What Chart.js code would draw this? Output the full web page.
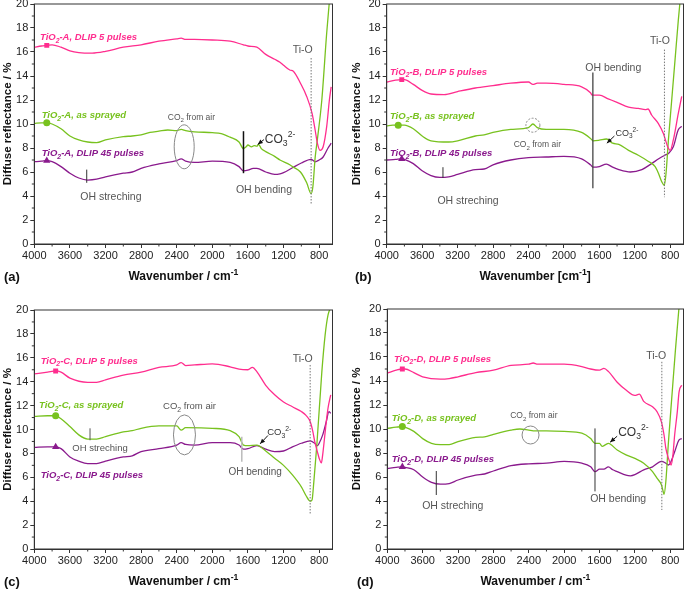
<!DOCTYPE html>
<html>
<head>
<meta charset="utf-8">
<script src="https://cdn.jsdelivr.net/npm/chart.js@4.4.1/dist/chart.umd.min.js"></script>
<style>
  html, body { margin: 0; padding: 0; background: #fff; }
  #wrap { position: relative; width: 685px; height: 591px; overflow: hidden; }
  .panel { position: absolute; }
</style>
</head>
<body>
<div id="wrap">
  <div class="panel" style="left:0;top:0;width:342px;height:295px"><canvas id="cA"></canvas></div>
  <div class="panel" style="left:342px;top:0;width:343px;height:295px"><canvas id="cB"></canvas></div>
  <div class="panel" style="left:0;top:295px;width:342px;height:296px"><canvas id="cC"></canvas></div>
  <div class="panel" style="left:342px;top:295px;width:343px;height:296px"><canvas id="cD"></canvas></div>
</div>
<script>
// ---- data (wavenumber / cm-1, diffuse reflectance / %) ----
const yTicks = [0, 2, 4, 6, 8, 10, 12, 14, 16, 18, 20];
const xTicks = [4000, 3600, 3200, 2800, 2400, 2000, 1600, 1200, 800];

// (a)
const aPinkX = [4000, 3920, 3860, 3800, 3700, 3600, 3500, 3350, 3200, 3000, 2800, 2600, 2400, 2350, 2300, 2200, 2000, 1800, 1650, 1600, 1500, 1400, 1300, 1240, 1200, 1130, 1090, 1010, 940, 880, 845, 820, 790, 755, 715, 685, 665];
const aPinkY = [16.4, 16.5, 16.55, 16.6, 16.4, 16.1, 15.95, 15.9, 16.05, 16.4, 16.6, 16.9, 17.1, 17.15, 17.05, 17.05, 17.0, 16.9, 16.6, 16.5, 16.4, 15.8, 15.4, 15.15, 14.9, 14.5, 14.4, 13.4, 12.3, 10.9, 9.5, 8.4, 7.8, 8.1, 9.8, 12.0, 13.1];
const aGreenX = [4000, 3920, 3860, 3800, 3700, 3600, 3500, 3400, 3300, 3200, 3000, 2900, 2800, 2700, 2600, 2500, 2400, 2350, 2300, 2200, 2000, 1900, 1800, 1700, 1650, 1620, 1600, 1560, 1530, 1500, 1480, 1450, 1400, 1300, 1240, 1130, 1100, 1010, 940, 890, 870, 845, 820, 770, 715, 685];
const aGreenY = [10.05, 10.1, 10.1, 10.0, 9.6, 9.0, 8.67, 8.5, 8.45, 8.67, 8.95, 9.0, 9.1, 9.3, 9.4, 9.5, 9.45, 9.55, 9.45, 9.35, 9.28, 9.2, 8.9, 8.5, 7.95, 8.1, 8.25, 8.1, 8.2, 8.15, 8.3, 7.95, 7.7, 7.3, 7.0, 6.6, 6.45, 6.0, 5.1, 4.2, 4.8, 7.2, 8.7, 12.0, 17.6, 20.2];
const aPurpX = [4000, 3920, 3860, 3800, 3700, 3600, 3500, 3400, 3300, 3200, 3000, 2900, 2800, 2600, 2400, 2350, 2300, 2200, 2000, 1800, 1700, 1650, 1600, 1540, 1500, 1400, 1300, 1240, 1200, 1100, 1000, 890, 845, 800, 755, 700, 665];
const aPurpY = [6.86, 6.9, 6.95, 6.86, 6.45, 5.9, 5.5, 5.33, 5.4, 5.6, 5.9, 6.0, 6.3, 6.67, 6.95, 7.1, 6.9, 6.8, 6.9, 6.8, 6.45, 6.1, 6.15, 6.3, 6.3, 6.0, 5.8, 5.85, 5.95, 6.35, 6.75, 7.05, 6.85, 7.0, 7.25, 8.0, 8.4];

// (b)
const bPinkX = [4000, 3900, 3830, 3800, 3700, 3600, 3500, 3350, 3200, 3000, 2800, 2600, 2400, 2350, 2300, 2200, 2000, 1800, 1700, 1680, 1600, 1500, 1400, 1270, 1160, 1080, 1050, 1010, 935, 877, 828, 801, 764, 708, 670];
const bPinkY = [13.5, 13.65, 13.7, 13.7, 13.3, 12.8, 12.5, 12.45, 12.7, 13.0, 13.2, 13.4, 13.5, 13.3, 13.4, 13.4, 13.3, 13.1, 12.6, 12.4, 12.4, 12.1, 11.8, 11.4, 11.3, 11.2, 11.25, 10.75, 10.05, 9.2, 8.1, 7.8, 8.7, 10.9, 12.3];
const bGreenX = [4000, 3930, 3870, 3800, 3700, 3600, 3500, 3300, 3200, 3000, 2900, 2800, 2600, 2400, 2350, 2300, 2200, 2000, 1800, 1700, 1670, 1600, 1520, 1450, 1380, 1270, 1160, 1050, 970, 933, 896, 866, 847, 820, 783, 746, 708, 689];
const bGreenY = [9.85, 9.9, 9.9, 9.9, 9.6, 9.0, 8.6, 8.5, 8.6, 9.0, 9.1, 9.3, 9.55, 9.7, 10.0, 9.7, 9.55, 9.55, 9.3, 8.8, 8.6, 8.65, 8.75, 8.4, 8.3, 7.8, 7.4, 6.9, 6.45, 5.9, 5.2, 4.9, 5.9, 8.7, 12.0, 15.3, 18.7, 20.2];
const bPurpX = [4000, 3900, 3830, 3800, 3700, 3600, 3500, 3400, 3300, 3200, 3000, 2900, 2800, 2600, 2400, 2200, 2000, 1800, 1700, 1670, 1600, 1520, 1450, 1380, 1250, 1120, 1010, 930, 860, 820, 765, 710, 670];
const bPurpY = [7.0, 7.05, 7.1, 7.05, 6.7, 6.1, 5.7, 5.55, 5.6, 5.8, 6.2, 6.25, 6.6, 7.0, 7.2, 7.25, 7.3, 7.1, 6.6, 6.4, 6.45, 6.65, 6.4, 6.2, 6.0, 6.2, 6.7, 7.1, 7.4, 7.55, 8.1, 9.5, 9.8];

// (c)
const cPinkX = [4000, 3850, 3760, 3700, 3600, 3400, 3300, 3200, 3000, 2800, 2600, 2400, 2350, 2300, 2200, 2000, 1800, 1700, 1600, 1550, 1500, 1400, 1300, 1200, 1100, 1000, 950, 900, 870, 850, 820, 800, 775, 760, 740, 720, 700, 670];
const cPinkY = [14.65, 14.8, 14.9, 14.8, 14.3, 13.95, 13.95, 14.15, 14.55, 14.8, 15.2, 15.4, 15.6, 15.35, 15.4, 15.5, 15.25, 15.05, 15.0, 15.2, 14.85, 13.7, 12.9, 12.3, 11.9, 11.5, 11.2, 10.65, 9.8, 9.0, 8.15, 7.6, 7.2, 7.9, 9.25, 10.65, 11.8, 12.9];
const cGreenX = [4000, 3850, 3760, 3700, 3600, 3500, 3400, 3300, 3200, 3000, 2900, 2800, 2600, 2400, 2350, 2300, 2000, 1800, 1700, 1650, 1600, 1500, 1400, 1300, 1200, 1100, 1000, 950, 900, 880, 860, 826, 770, 733, 700, 670];
const cGreenY = [11.1, 11.15, 11.15, 10.9, 10.25, 9.55, 9.2, 9.2, 9.4, 9.8, 9.9, 10.1, 10.3, 10.3, 9.95, 10.15, 10.1, 9.9, 9.4, 8.7, 8.65, 8.7, 8.2, 7.6, 7.0, 6.2, 5.2, 4.5, 4.0, 4.1, 5.6, 8.7, 14.8, 17.9, 19.6, 20.2];
const cPurpX = [4000, 3850, 3760, 3700, 3600, 3500, 3400, 3300, 3200, 3000, 2900, 2800, 2600, 2400, 2350, 2300, 2200, 2000, 1800, 1700, 1650, 1600, 1500, 1400, 1300, 1200, 1100, 1000, 900, 850, 820, 800, 760, 720, 690, 670];
const cPurpY = [8.5, 8.55, 8.55, 8.4, 7.7, 7.35, 7.15, 7.15, 7.35, 7.7, 7.8, 8.15, 8.4, 8.7, 8.9, 8.75, 8.7, 8.9, 8.9, 8.7, 8.35, 8.4, 8.65, 8.35, 8.15, 8.2, 8.55, 8.85, 9.05, 8.85, 8.65, 8.85, 9.55, 10.65, 11.5, 11.35];

// (d)
const dPinkX = [4000, 3900, 3830, 3800, 3700, 3600, 3400, 3300, 3200, 3000, 2800, 2600, 2400, 2350, 2300, 2000, 1800, 1700, 1600, 1550, 1500, 1400, 1300, 1200, 1150, 1100, 1000, 950, 900, 870, 850, 820, 800, 790, 770, 750, 720, 700, 670];
const dPinkY = [14.65, 14.9, 15.0, 15.0, 14.7, 14.35, 14.15, 14.2, 14.35, 14.7, 14.9, 15.3, 15.4, 15.5, 15.4, 15.4, 15.2, 15.0, 14.9, 15.05, 14.8, 13.9, 13.25, 12.8, 12.9, 12.3, 11.85, 11.45, 10.6, 9.5, 8.4, 7.55, 7.15, 7.0, 7.8, 9.5, 11.45, 13.1, 13.65];
const dGreenX = [4000, 3900, 3830, 3800, 3700, 3600, 3500, 3400, 3300, 3200, 3000, 2900, 2800, 2600, 2500, 2400, 2350, 2200, 2000, 1800, 1700, 1650, 1600, 1570, 1530, 1500, 1400, 1300, 1200, 1100, 1000, 950, 900, 880, 870, 850, 820, 780, 740, 700];
const dGreenY = [10.05, 10.15, 10.2, 10.15, 9.8, 9.2, 8.8, 8.7, 8.7, 8.95, 9.3, 9.35, 9.55, 9.9, 10.0, 9.9, 9.85, 9.85, 9.8, 9.65, 9.2, 8.8, 8.8, 8.55, 8.7, 8.8, 8.25, 7.85, 7.55, 7.15, 6.45, 5.9, 5.35, 4.8, 4.55, 5.6, 8.95, 12.85, 16.7, 20.2];
const dPurpX = [4000, 3900, 3830, 3800, 3700, 3600, 3500, 3400, 3300, 3200, 3000, 2900, 2800, 2600, 2400, 2200, 2000, 1800, 1700, 1650, 1600, 1550, 1500, 1450, 1400, 1300, 1250, 1200, 1100, 1000, 900, 850, 820, 800, 750, 700, 670];
const dPurpY = [6.7, 6.8, 6.85, 6.8, 6.6, 6.0, 5.55, 5.4, 5.45, 5.75, 6.15, 6.25, 6.5, 6.95, 7.1, 7.15, 7.3, 7.15, 6.85, 6.45, 6.65, 6.65, 6.85, 6.6, 6.45, 6.15, 6.1, 6.2, 6.6, 6.85, 7.3, 7.15, 7.0, 7.15, 8.1, 9.1, 9.2];

// wavenumber where each curve carries its symbol: [pink, green, purple]
const markA = [3860, 3860, 3860];
const markB = [3830, 3870, 3830];
const markC = [3760, 3760, 3760];
const markD = [3830, 3830, 3830];

const PINK = '#ff2d8e', GREEN = '#78c21f', PURPLE = '#8a1a8d';
const FAMILY = 'Arial, "Liberation Sans", sans-serif';

Chart.defaults.font.family = FAMILY;
Chart.defaults.font.size = 11;
Chart.defaults.color = '#222';

function zip(xs, ys) {
  return xs.map((x, i) => ({ x: x, y: ys[i] }));
}

// draws text with sub (1) / sup (2) parts; y is the vertical middle
function rich(ctx, parts, x, y, size, font, color, align) {
  const f = s => `${font} ${s}px ${FAMILY}`;
  const widths = parts.map(([t, m]) => { ctx.font = f(m ? size * 0.72 : size); return ctx.measureText(t).width; });
  const total = widths.reduce((s, w) => s + w, 0);
  let cx = align === 'center' ? x - total / 2 : align === 'right' ? x - total : x;
  ctx.fillStyle = color;
  ctx.textAlign = 'left';
  ctx.textBaseline = 'alphabetic';
  const base = y + size * 0.36;
  parts.forEach(([t, m], i) => {
    ctx.font = f(m ? size * 0.72 : size);
    const dy = m === 1 ? size * 0.3 : m === 2 ? -size * 0.45 : 0;
    ctx.fillText(t, cx, base + dy);
    cx += widths[i];
  });
}

const decoPlugin = {
  id: 'deco',
  afterDraw(chart, args, o) {
    const { ctx, chartArea: a, scales: { x, y } } = chart;
    const px = w => x.getPixelForValue(w), py = v => y.getPixelForValue(v);
    ctx.save();

    // box + minor ticks
    ctx.strokeStyle = '#333';
    ctx.lineWidth = 1;
    ctx.strokeRect(a.left, a.top, a.right - a.left, a.bottom - a.top);
    ctx.beginPath();
    for (let w = 1000; w < 4000; w += 400) { ctx.moveTo(px(w), a.bottom); ctx.lineTo(px(w), a.bottom + 2.5); }
    for (let v = 1; v < 20; v += 2) { ctx.moveTo(a.left, py(v)); ctx.lineTo(a.left - 2.5, py(v)); }
    ctx.stroke();

    // annotations
    o.notes.forEach(n => {
      ctx.setLineDash(n.dash || []);
      ctx.strokeStyle = n.color || '#444';
      ctx.lineWidth = n.width || 1;
      if (n.type === 'text') {
        rich(ctx, n.parts, px(n.w), py(n.v), n.size, 'normal', n.color || '#444', n.align || 'center');
      } else if (n.type === 'vline') {
        ctx.beginPath();
        ctx.moveTo(px(n.w), py(n.v1));
        ctx.lineTo(px(n.w), py(n.v2));
        ctx.stroke();
      } else if (n.type === 'ellipse') {
        ctx.beginPath();
        ctx.ellipse(px(n.w), py(n.v), n.rx, n.ry, 0, 0, Math.PI * 2);
        ctx.stroke();
      } else if (n.type === 'arrow') {
        const x1 = px(n.w1), y1 = py(n.v1), x2 = px(n.w2), y2 = py(n.v2);
        const ang = Math.atan2(y2 - y1, x2 - x1);
        ctx.beginPath();
        ctx.moveTo(x1, y1);
        ctx.lineTo(x2, y2);
        ctx.stroke();
        ctx.fillStyle = n.color || '#111';
        ctx.beginPath();
        ctx.moveTo(x2, y2);
        ctx.lineTo(x2 - 5 * Math.cos(ang) + 2.2 * Math.sin(ang), y2 - 5 * Math.sin(ang) - 2.2 * Math.cos(ang));
        ctx.lineTo(x2 - 5 * Math.cos(ang) - 2.2 * Math.sin(ang), y2 - 5 * Math.sin(ang) + 2.2 * Math.cos(ang));
        ctx.closePath();
        ctx.fill();
      }
      ctx.setLineDash([]);
    });

    // series names
    o.labels.forEach(l => {
      rich(ctx, l.parts, px(l.w), py(l.v), 9.5, 'italic bold', l.color, 'left');
    });

    // axis titles and panel letter
    ctx.save();
    ctx.translate(o.yTitleX, (a.top + a.bottom) / 2);
    ctx.rotate(-Math.PI / 2);
    rich(ctx, [['Diffuse reflectance / %', 0]], 0, 0, 11.5, 'bold', '#111', 'center');
    ctx.restore();
    rich(ctx, o.xTitle, (a.left + a.right) / 2, a.bottom + 32, 12, 'bold', '#111', 'center');
    rich(ctx, [[o.letter, 0]], o.letterX, a.bottom + 32, 13, 'bold', '#111', 'left');
    ctx.restore();
  }
};

function seriesNames(tag, pos) {
  const names = [' DLIP 5 pulses', ' as sprayed', ' DLIP 45 pulses'];
  const cols = [PINK, GREEN, PURPLE];
  return names.map((nm, i) => ({
    parts: [['TiO', 0], ['2', 1], ['-' + tag + ',' + nm, 0]],
    w: pos[i][0], v: pos[i][1], color: cols[i]
  }));
}

function co2(w, v, size) {
  return { type: 'text', parts: [['CO', 0], ['2', 1], [' from air', 0]], w: w, v: v, size: size, color: '#555' };
}
function co3(w, v, size) {
  return { type: 'text', parts: [['CO', 0], ['3', 1], ['2-', 2]], w: w, v: v, size: size, color: '#333', align: 'left' };
}
function txt(s, w, v, size) {
  return { type: 'text', parts: [[s, 0]], w: w, v: v, size: size, color: '#555' };
}

function makeChart(id, box, series, marks, deco) {
  const cols = [PINK, GREEN, PURPLE];
  const styles = ['rect', 'circle', 'triangle'];
  const datasets = series.map((s, i) => ({
    data: zip(s[0], s[1]),
    borderColor: cols[i],
    backgroundColor: cols[i],
    borderWidth: 1.3,
    cubicInterpolationMode: 'monotone',
    pointStyle: styles[i],
    pointRadius: ctx => (ctx.raw && ctx.raw.x === marks[i] ? (i === 2 ? 4.2 : 3.5) : 0),
    pointBorderWidth: 0,
    pointBackgroundColor: cols[i],
    pointHoverRadius: 0
  }));
  return new Chart(document.getElementById(id), {
    type: 'line',
    data: { datasets: datasets },
    plugins: [decoPlugin],
    options: {
      responsive: true,
      maintainAspectRatio: false,
      animation: false,
      devicePixelRatio: 1,
      events: [],
      layout: { padding: { left: 0, top: box.T, right: box.W - box.R, bottom: 0 } },
      plugins: { legend: { display: false }, tooltip: { enabled: false }, deco: deco },
      scales: {
        x: {
          type: 'linear', reverse: true, min: 650, max: 4000,
          border: { color: '#333', width: 1 },
          grid: { drawOnChartArea: false, tickLength: 4, color: '#333' },
          afterBuildTicks: s => { s.ticks = xTicks.map(v => ({ value: v })); },
          ticks: { padding: 1, maxRotation: 0, autoSkip: false, color: '#222', callback: v => String(v) },
          afterFit: s => { s.height = box.H - box.B; s.paddingLeft = 0; s.paddingRight = 0; }
        },
        y: {
          type: 'linear', min: 0, max: 20,
          border: { color: '#333', width: 1 },
          grid: { drawOnChartArea: false, tickLength: 4, color: '#333' },
          afterBuildTicks: s => { s.ticks = yTicks.map(v => ({ value: v })); },
          ticks: { padding: 2, color: '#222', callback: v => String(v) },
          afterFit: s => { s.width = box.L; s.paddingTop = 0; s.paddingBottom = 0; }
        }
      }
    }
  });
}

// (a)
makeChart('cA', { W: 342, H: 295, L: 34.3, R: 332.5, T: 4, B: 244 },
  [[aPinkX, aPinkY], [aGreenX, aGreenY], [aPurpX, aPurpY]], markA, {
    letter: '(a)', letterX: 4, yTitleX: 7,
    xTitle: [['Wavenumber / cm', 0], ['-1', 2]],
    labels: seriesNames('A', [[3936, 17.3], [3917, 10.8], [3917, 7.6]]),
    notes: [
      txt('Ti-O', 985, 16.25, 10.5),
      { type: 'vline', w: 890, v1: 15.5, v2: 3.3, dash: [1.5, 1.5], color: '#777' },
      { type: 'vline', w: 3411, v1: 6.2, v2: 5.1, color: '#333' },
      txt('OH streching', 3140, 3.95, 10.5),
      { type: 'vline', w: 1650, v1: 9.4, v2: 5.9, color: '#111', width: 1.5 },
      txt('OH bending', 1420, 4.6, 10.5),
      { type: 'ellipse', w: 2316, v: 8.1, rx: 10, ry: 22, color: '#888' },
      co2(2235, 10.6, 8.5),
      co3(1410, 8.8, 12),
      { type: 'arrow', w1: 1420, v1: 8.7, w2: 1490, v2: 8.3, color: '#111' }
    ]
  });

// (b)
makeChart('cB', { W: 343, H: 295, L: 44.7, R: 341.5, T: 4, B: 244 },
  [[bPinkX, bPinkY], [bGreenX, bGreenY], [bPurpX, bPurpY]], markB, {
    letter: '(b)', letterX: 13, yTitleX: 14,
    xTitle: [['Wavenumber [cm', 0], ['-1', 2], [']', 0]],
    labels: seriesNames('B', [[3963, 14.4], [3963, 10.7], [3963, 7.6]]),
    notes: [
      txt('Ti-O', 915, 17, 10.5),
      { type: 'vline', w: 865, v1: 16.2, v2: 3.9, dash: [1.5, 1.5], color: '#777' },
      { type: 'vline', w: 1673, v1: 14.3, v2: 4.65, color: '#444', width: 1.3 },
      txt('OH bending', 1443, 14.75, 10.5),
      { type: 'vline', w: 3365, v1: 6.4, v2: 5.5, color: '#333' },
      txt('OH streching', 3082, 3.65, 10.5),
      { type: 'ellipse', w: 2350, v: 9.9, rx: 7, ry: 7, color: '#888', dash: [2, 1.5] },
      co2(2300, 8.3, 8.5),
      co3(1418, 9.3, 9),
      { type: 'arrow', w1: 1430, v1: 9.0, w2: 1515, v2: 8.4, color: '#111' }
    ]
  });

// (c)
makeChart('cC', { W: 342, H: 296, L: 34.3, R: 332.5, T: 15, B: 254 },
  [[cPinkX, cPinkY], [cGreenX, cGreenY], [cPurpX, cPurpY]], markC, {
    letter: '(c)', letterX: 4, yTitleX: 7,
    xTitle: [['Wavenumber / cm', 0], ['-1', 2]],
    labels: seriesNames('C', [[3928, 15.8], [3947, 12.1], [3928, 6.2]]),
    notes: [
      txt('Ti-O', 985, 15.95, 10.5),
      { type: 'vline', w: 901, v1: 15.4, v2: 2.85, dash: [1.5, 1.5], color: '#777' },
      { type: 'vline', w: 3374, v1: 10.1, v2: 9.1, color: '#555' },
      txt('OH streching', 3262, 8.5, 9.5),
      { type: 'vline', w: 1669, v1: 9.4, v2: 7.3, color: '#bbb', width: 1.5 },
      txt('OH bending', 1519, 6.5, 10),
      { type: 'ellipse', w: 2313, v: 9.55, rx: 11, ry: 20, color: '#888' },
      co2(2256, 12.0, 9.5),
      co3(1384, 9.8, 9.5),
      { type: 'arrow', w1: 1375, v1: 9.5, w2: 1463, v2: 8.8, color: '#111' }
    ]
  });

// (d)
makeChart('cD', { W: 343, H: 296, L: 45.3, R: 341.5, T: 14, B: 254 },
  [[dPinkX, dPinkY], [dGreenX, dGreenY], [dPurpX, dPurpY]], markD, {
    letter: '(d)', letterX: 15, yTitleX: 14,
    xTitle: [['Wavenumber / cm', 0], ['-1', 2]],
    labels: seriesNames('D', [[3925, 15.9], [3951, 10.95], [3951, 7.5]]),
    notes: [
      txt('Ti-O', 958, 16.15, 10.5),
      { type: 'vline', w: 895, v1: 15.6, v2: 3.25, dash: [1.5, 1.5], color: '#777' },
      { type: 'vline', w: 3446, v1: 6.5, v2: 4.5, color: '#333' },
      txt('OH streching', 3259, 3.65, 10.5),
      { type: 'vline', w: 1651, v1: 10.05, v2: 4.8, color: '#333' },
      txt('OH bending', 1389, 4.2, 10.5),
      { type: 'ellipse', w: 2380, v: 9.5, rx: 8.5, ry: 9, color: '#888' },
      co2(2343, 11.15, 8.5),
      co3(1389, 9.8, 12),
      { type: 'arrow', w1: 1400, v1: 9.4, w2: 1480, v2: 8.9, color: '#111' }
    ]
  });
</script>
</body>
</html>
